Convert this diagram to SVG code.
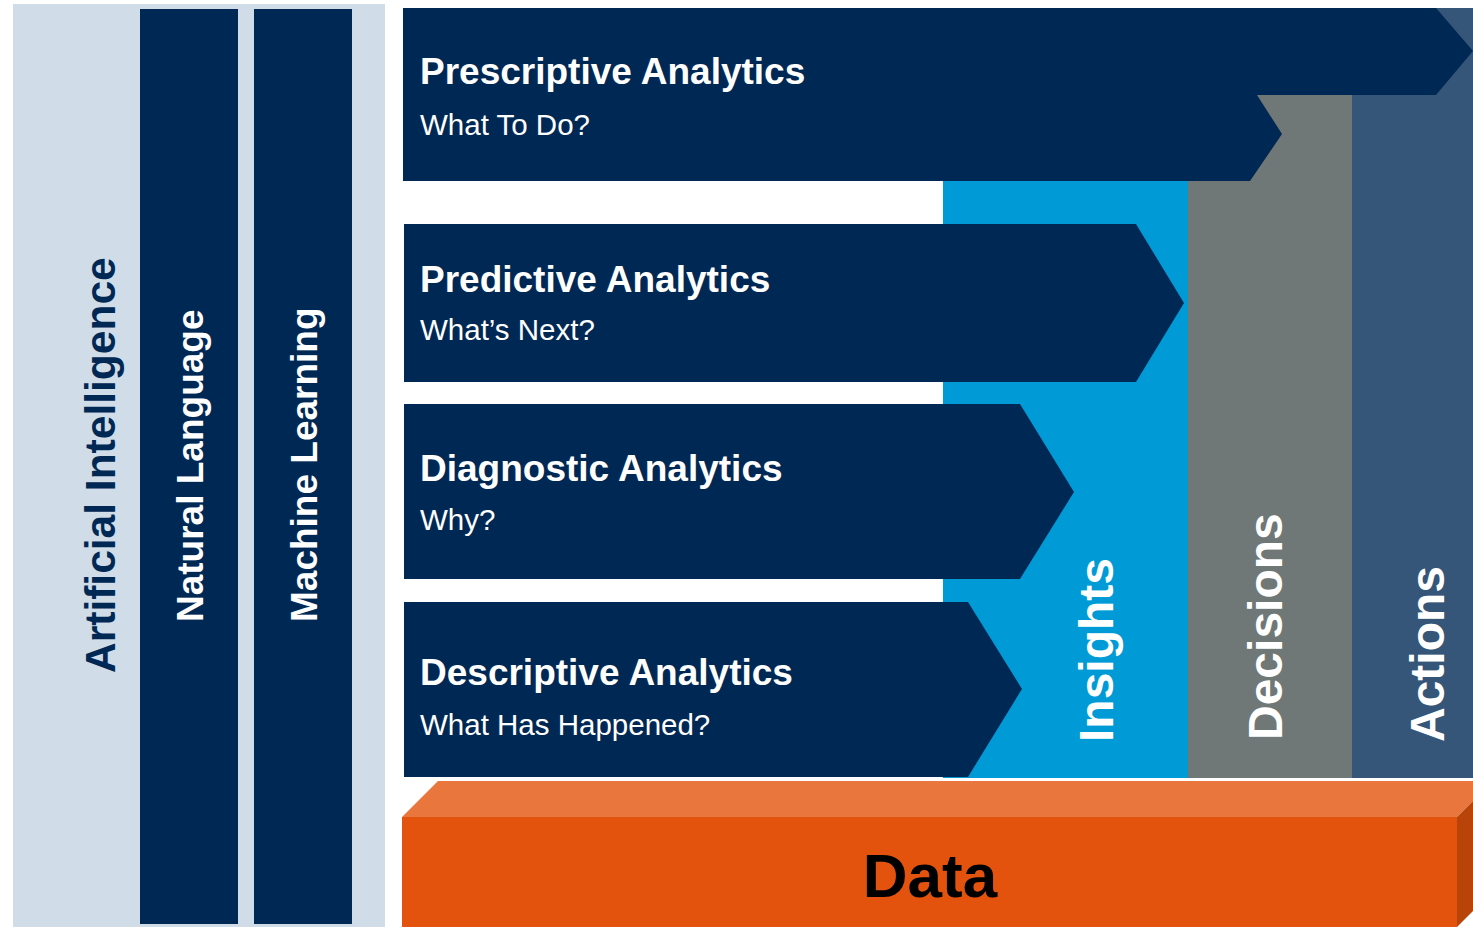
<svg xmlns="http://www.w3.org/2000/svg" width="1473" height="927" viewBox="0 0 1473 927">
<style>
.navy{fill:#002855}
.t{font-family:"Liberation Sans",Arial,sans-serif;font-weight:bold;fill:#ffffff}
.s{font-family:"Liberation Sans",Arial,sans-serif;fill:#ffffff;font-size:29.5px}
.title{font-size:37px}
.col{font-size:48px}
</style>
<rect width="1473" height="927" fill="#ffffff"/>
<g id="ai">
<rect x="13" y="4" width="372" height="923" fill="#d0dde8"/>
<text class="t" transform="translate(115,673) rotate(-90)" style="font-size:42.5px;fill:#002855">Artificial Intelligence</text>
</g>
<g id="natural-language">
<rect class="navy" x="140" y="9" width="98" height="915"/>
<text class="t" transform="translate(203,622) rotate(-90)" style="font-size:37px">Natural Language</text>
</g>
<g id="machine-learning">
<rect class="navy" x="254" y="9" width="98" height="915"/>
<text class="t" transform="translate(317,622) rotate(-90)" style="font-size:37px">Machine Learning</text>
</g>
<g id="actions">
<rect x="1352" y="8" width="121" height="770" fill="#355678"/>
<text class="t col" transform="translate(1444,742) rotate(-90)">Actions</text>
</g>
<g id="decisions">
<rect x="1188" y="95" width="164" height="683" fill="#6f7777"/>
<text class="t col" transform="translate(1282,740) rotate(-90)">Decisions</text>
</g>
<g id="insights">
<rect x="943" y="181" width="245" height="597" fill="#009bd6"/>
<text class="t col" transform="translate(1113,742) rotate(-90)">Insights</text>
</g>
<g id="prescriptive">
<polygon class="navy" points="403,8 1436,8 1473,51 1436,95 1257,95 1282,134 1250,181 403,181"/>
<text class="t title" x="420" y="84">Prescriptive Analytics</text>
<text class="s" x="420" y="135">What To Do?</text>
</g>
<g id="predictive">
<polygon class="navy" points="404,224 1136,224 1184,303 1136,382 404,382"/>
<text class="t title" x="420" y="292">Predictive Analytics</text>
<text class="s" x="420" y="340">What’s Next?</text>
</g>
<g id="diagnostic">
<polygon class="navy" points="404,404 1020,404 1074,492 1020,579 404,579"/>
<text class="t title" x="420" y="481">Diagnostic Analytics</text>
<text class="s" x="420" y="530">Why?</text>
</g>
<g id="descriptive">
<polygon class="navy" points="404,602 968,602 1022,689 968,777 404,777"/>
<text class="t title" x="420" y="685">Descriptive Analytics</text>
<text class="s" x="420" y="735">What Has Happened?</text>
</g>
<g id="data">
<polygon points="438,781 1493,781 1457,817 402,817" fill="#e9773d"/>
<polygon points="1457,817 1493,781 1493,891 1457,927" fill="#b8440a"/>
<rect x="402" y="817" width="1055" height="110" fill="#e3530e"/>
<text x="930" y="897" text-anchor="middle" style="font-family:'Liberation Sans',Arial,sans-serif;font-weight:bold;font-size:62px;fill:#000000">Data</text>
</g>
<g id="connectors"></g>
</svg>
